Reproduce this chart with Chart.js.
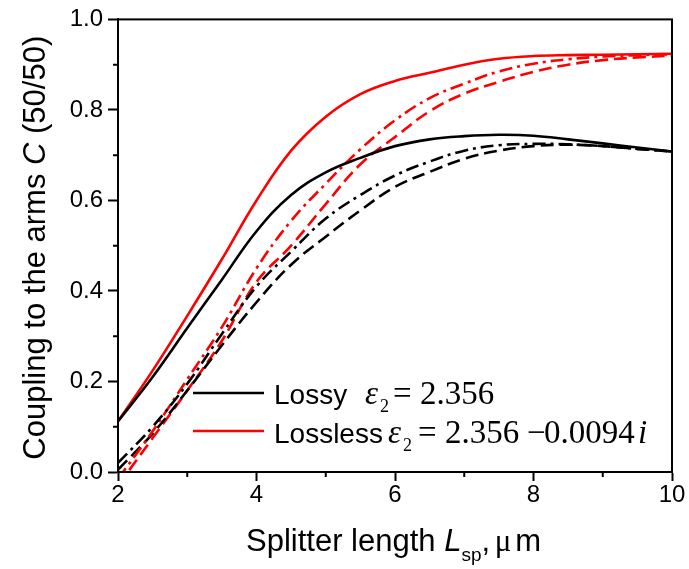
<!DOCTYPE html>
<html>
<head>
<meta charset="utf-8">
<script src="https://cdn.jsdelivr.net/npm/chart.js@4.4.1/dist/chart.umd.min.js"></script>
<style>
  html, body { margin: 0; padding: 0; background: #fff; }
  #wrap { width: 689px; height: 569px; position: relative; }
</style>
</head>
<body>
<div id="wrap"><canvas id="couplingChart"></canvas></div>
<script>
// --- Data: splitter length (um) and coupling to the arms ---
const lengths = [2, 2.5, 3, 3.5, 4, 4.5, 5, 5.5, 6, 6.5, 7, 7.5, 8, 8.5, 9, 9.5, 10];

const lossySolid = [0.112, 0.21, 0.318, 0.425, 0.532, 0.612, 0.662, 0.694, 0.72, 0.735, 0.742, 0.745, 0.743, 0.735, 0.726, 0.717, 0.708];
const lossyDashDot = [0.02, 0.10, 0.195, 0.305, 0.41, 0.487, 0.56, 0.612, 0.655, 0.686, 0.71, 0.722, 0.725, 0.724, 0.72, 0.714, 0.708];
const lossyDash = [0.005, 0.085, 0.18, 0.28, 0.375, 0.458, 0.52, 0.578, 0.63, 0.663, 0.692, 0.71, 0.72, 0.723, 0.72, 0.714, 0.708];

const losslessSolid = [0.112, 0.224, 0.345, 0.47, 0.6, 0.71, 0.785, 0.835, 0.864, 0.882, 0.9, 0.913, 0.919, 0.921, 0.922, 0.923, 0.924];
const losslessDashDot = [-0.015, 0.09, 0.205, 0.32, 0.45, 0.555, 0.637, 0.713, 0.777, 0.826, 0.858, 0.885, 0.902, 0.912, 0.918, 0.921, 0.923];
const losslessDash = [-0.03, 0.075, 0.18, 0.29, 0.42, 0.5, 0.592, 0.68, 0.74, 0.797, 0.836, 0.862, 0.884, 0.9, 0.91, 0.916, 0.92];

const xTicks = [2, 4, 6, 8, 10];
const yTicks = [0, 0.2, 0.4, 0.6, 0.8, 1.0];

const SANS = "'Liberation Sans', Arial, sans-serif";
const SERIF = "'Liberation Serif', 'Times New Roman', serif";

function toPoints(ys) {
    return ys.map((y, i) => ({ x: lengths[i], y: y }));
}

function lineSet(label, ys, color, dash) {
    return {
        label: label,
        data: toPoints(ys),
        borderColor: color,
        borderWidth: 2.6,
        borderDash: dash,
        pointRadius: 0,
        fill: false,
        tension: 0.4,
    };
}

// --- Frame, minor ticks, axis titles and legend ---
const decorations = {
    id: "decorations",
    afterDraw(chart) {
        const ctx = chart.ctx;
        const area = chart.chartArea;
        const xs = chart.scales.x;
        const ys = chart.scales.y;
        ctx.save();

        // box around the plot
        ctx.strokeStyle = "#000";
        ctx.lineWidth = 2;
        ctx.strokeRect(area.left, area.top, area.right - area.left, area.bottom - area.top);

        // minor ticks
        ctx.beginPath();
        for (let v = 3; v < 10; v += 2) {
            const px = xs.getPixelForValue(v);
            ctx.moveTo(px, area.bottom);
            ctx.lineTo(px, area.bottom + 5);
        }
        for (let v = 0.1; v < 1; v += 0.2) {
            const py = ys.getPixelForValue(v);
            ctx.moveTo(area.left, py);
            ctx.lineTo(area.left - 5, py);
        }
        ctx.stroke();

        ctx.fillStyle = "#000";
        ctx.textBaseline = "alphabetic";
        ctx.textAlign = "left";

        // x axis title
        let x = 246;
        const yb = 551;
        ctx.font = "31px " + SANS;
        ctx.fillText("Splitter length ", x, yb);
        x += ctx.measureText("Splitter length ").width;
        ctx.font = "italic 31px " + SANS;
        ctx.fillText("L", x, yb);
        x += ctx.measureText("L").width;
        ctx.font = "19px " + SANS;
        ctx.fillText("sp", x, yb + 10);
        x += ctx.measureText("sp").width;
        ctx.font = "31px " + SANS;
        ctx.fillText(",", x, yb);
        x += ctx.measureText(", ").width - 4;
        ctx.font = "31px " + SERIF;
        ctx.fillText("\u03bc", x, yb);
        x += ctx.measureText("\u03bc").width + 4;
        ctx.font = "31px " + SANS;
        ctx.fillText("m", x, yb);

        // y axis title, rotated
        ctx.save();
        ctx.translate(45, (area.top + area.bottom) / 2 + 2);
        ctx.rotate(-Math.PI / 2);
        const parts = [
            ["31px " + SANS, "Coupling to the arms "],
            ["italic 31px " + SANS, "C"],
            ["31px " + SANS, " (50/50)"],
        ];
        let total = 0;
        parts.forEach((p) => { ctx.font = p[0]; total += ctx.measureText(p[1]).width; });
        let tx = -total / 2;
        parts.forEach((p) => {
            ctx.font = p[0];
            ctx.fillText(p[1], tx, 0);
            tx += ctx.measureText(p[1]).width;
        });
        ctx.restore();

        // legend: line sample, name, then the permittivity written out
        const rows = [
            { color: "#000", y: 393, base: 404, name: "Lossy", eps: 365,
              pieces: [["=", 393], ["2.356", 420]] },
            { color: "#ff0000", y: 431, base: 443, name: "Lossless", eps: 388,
              pieces: [["=", 418], ["2.356", 445], ["\u2212", 527], ["0.0094", 544]], imag: 638 },
        ];
        rows.forEach((r) => {
            ctx.strokeStyle = r.color;
            ctx.lineWidth = 2.6;
            ctx.beginPath();
            ctx.moveTo(193, r.y);
            ctx.lineTo(264, r.y);
            ctx.stroke();

            ctx.fillStyle = "#000";
            ctx.font = "28px " + SANS;
            ctx.fillText(r.name, 274, r.base);

            ctx.font = "italic 33px " + SERIF;
            ctx.fillText("\u03b5", r.eps, r.base);
            ctx.font = "18px " + SERIF;
            ctx.fillText("2", r.eps + 15, r.base + 8);
            ctx.font = "33px " + SERIF;
            r.pieces.forEach((p) => ctx.fillText(p[0], p[1], r.base));
            if (r.imag) {
                ctx.font = "italic 33px " + SERIF;
                ctx.fillText("i", r.imag, r.base);
            }
        });

        ctx.restore();
    },
};

const ctx = document.getElementById("couplingChart").getContext("2d");
const couplingChart = new Chart(ctx, {
    type: "line",
    data: {
        datasets: [
            lineSet("Lossy", lossySolid, "#000", []),
            lineSet("Lossless", losslessSolid, "#ff0000", []),
            lineSet("Lossy dash-dot", lossyDashDot, "#000", [13, 5, 3, 5]),
            lineSet("Lossless dash-dot", losslessDashDot, "#ff0000", [13, 5, 3, 5]),
            lineSet("Lossy dash", lossyDash, "#000", [13, 6]),
            lineSet("Lossless dash", losslessDash, "#ff0000", [13, 6]),
        ],
    },
    options: {
        responsive: true,
        maintainAspectRatio: false,
        animation: false,
        layout: { padding: { top: 17, right: 17, left: 0, bottom: 0 } },
        plugins: {
            legend: { display: false },
            tooltip: { enabled: false },
        },
        scales: {
            x: {
                type: "linear",
                min: 2,
                max: 10,
                afterFit: (s) => { s.height = 97; },
                afterBuildTicks: (s) => { s.ticks = xTicks.map((v) => ({ value: v })); },
                ticks: {
                    color: "#000",
                    font: { family: SANS, size: 24 },
                    padding: 0,
                    maxRotation: 0,
                    callback: (v) => String(v),
                },
                grid: { drawOnChartArea: false, tickLength: 9, tickColor: "#000", tickWidth: 2 },
                border: { color: "#000", width: 2 },
            },
            y: {
                min: 0,
                max: 1,
                afterFit: (s) => { s.width = 118; },
                afterBuildTicks: (s) => { s.ticks = yTicks.map((v) => ({ value: v })); },
                ticks: {
                    color: "#000",
                    font: { family: SANS, size: 24 },
                    padding: 5,
                    callback: (v) => v.toFixed(1),
                },
                grid: { drawOnChartArea: false, tickLength: 10, tickColor: "#000", tickWidth: 2 },
                border: { color: "#000", width: 2 },
            },
        },
    },
    plugins: [decorations],
});
</script>
</body>
</html>
